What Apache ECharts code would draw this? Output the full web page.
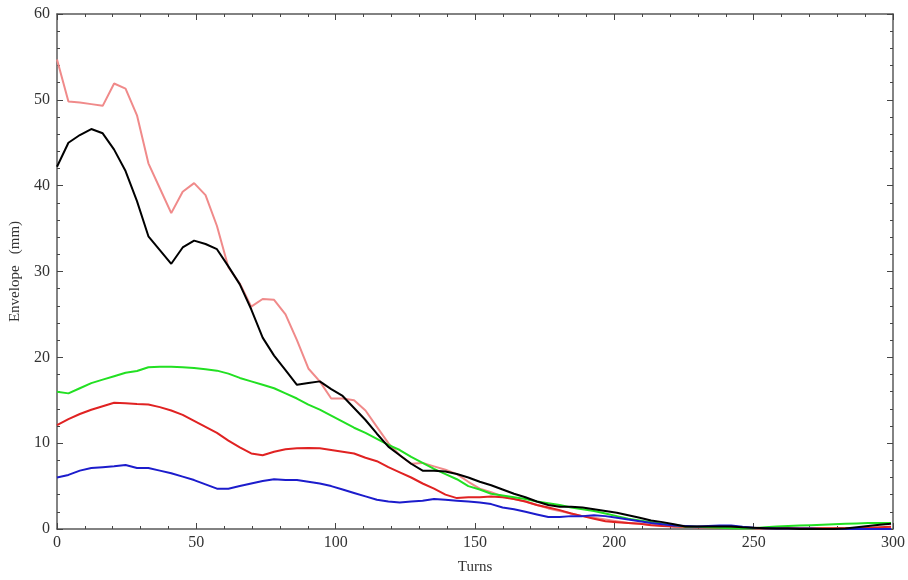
<!DOCTYPE html>
<html>
<head>
<meta charset="utf-8">
<script src="https://cdn.jsdelivr.net/npm/echarts@6/dist/echarts.min.js"></script>
<style>
html,body{margin:0;padding:0;background:#fff;}
#chart{width:908px;height:580px;}
</style>
</head>
<body>
<div id="chart"></div>
<script>
var turns = [0,4.1,8.2,12.3,16.4,20.5,24.6,28.7,32.8,36.9,41,45.1,49.2,53.3,57.4,61.5,65.6,69.7,73.8,77.9,82,86.1,90.2,94.3,98.4,102.5,106.6,110.7,114.8,118.9,123,127.1,131.2,135.3,139.4,143.5,147.6,151.7,155.8,159.9,164,168.1,172.2,176.3,180.4,184.5,188.6,192.7,196.8,200.9,205,209.1,213.2,217.3,221.4,225.5,229.6,233.7,237.8,241.9,246,250.1,254.2,258.3,262.4,266.5,270.6,274.7,278.8,282.9,287,291.1,295.2,299.3];

var pinkValues = [54.7,49.8,49.7,49.5,49.3,51.9,51.3,48.2,42.6,39.7,36.8,39.3,40.3,38.9,35.3,30.5,28.6,25.9,26.8,26.7,25.0,22.0,18.7,17.2,15.2,15.2,15.0,13.8,11.9,10.0,8.6,7.6,7.7,7.3,6.9,6.4,5.5,4.7,4.3,3.8,3.5,3.2,2.8,2.4,2.1,1.8,1.5,1.3,1.1,0.9,0.7,0.6,0.5,0.4,0.3,0.25,0.2,0.2,0.15,0.15,0.1,0.1,0.1,0.1,0.1,0.1,0.1,0.1,0.1,0.1,0.1,0.1,0.1,0.1];

var blackValues = [42.2,45.0,45.9,46.6,46.1,44.2,41.7,38.2,34.1,32.5,30.9,32.8,33.6,33.2,32.6,30.6,28.5,25.6,22.3,20.2,18.5,16.8,17.0,17.2,16.3,15.5,14.1,12.7,11.1,9.6,8.6,7.6,6.8,6.8,6.7,6.4,6.0,5.5,5.1,4.6,4.1,3.7,3.2,2.8,2.6,2.6,2.5,2.3,2.1,1.9,1.6,1.3,1.0,0.8,0.55,0.3,0.3,0.3,0.3,0.3,0.2,0.15,0.1,0.05,0.05,0,0,0,0,0.05,0.2,0.35,0.5,0.6];

var greenValues = [16.0,15.8,16.4,17.0,17.4,17.8,18.2,18.4,18.85,18.9,18.9,18.85,18.75,18.6,18.45,18.1,17.6,17.2,16.8,16.4,15.8,15.2,14.5,13.9,13.2,12.5,11.8,11.2,10.5,9.8,9.2,8.4,7.7,7.0,6.4,5.8,5.0,4.6,4.1,3.9,3.7,3.5,3.2,3.0,2.8,2.5,2.3,2.1,1.8,1.5,1.2,1.0,0.8,0.6,0.45,0.3,0.25,0.2,0.15,0.1,0.05,0.1,0.2,0.3,0.35,0.4,0.45,0.5,0.55,0.6,0.65,0.7,0.7,0.7];

var redValues = [12.1,12.8,13.4,13.9,14.3,14.7,14.65,14.55,14.5,14.2,13.8,13.3,12.6,11.9,11.2,10.3,9.5,8.8,8.6,9.0,9.3,9.4,9.45,9.4,9.2,9.0,8.8,8.3,7.9,7.2,6.6,6.0,5.3,4.7,4.0,3.6,3.7,3.7,3.8,3.7,3.5,3.2,2.8,2.5,2.2,1.8,1.5,1.2,0.9,0.8,0.7,0.6,0.45,0.35,0.3,0.25,0.2,0.2,0.15,0.15,0.15,0.1,0.1,0.1,0.1,0.1,0.1,0.1,0.1,0.1,0.1,0.15,0.2,0.25];

var blueValues = [6.0,6.3,6.8,7.1,7.2,7.3,7.45,7.1,7.1,6.8,6.5,6.1,5.7,5.2,4.7,4.7,5.0,5.3,5.6,5.8,5.7,5.7,5.5,5.3,5.0,4.6,4.2,3.8,3.4,3.2,3.1,3.2,3.3,3.5,3.4,3.3,3.2,3.1,2.9,2.5,2.3,2.0,1.7,1.4,1.4,1.5,1.5,1.6,1.5,1.3,1.1,0.9,0.7,0.55,0.4,0.35,0.3,0.35,0.4,0.4,0.25,0.15,0.1,0.05,0.05,0.05,0.05,0,0,0,0,0,0,0];

var xTicks = [0,50,100,150,200,250,300];
var yTicks = [0,10,20,30,40,50,60];

function pairs(vals){ return turns.map(function(t,i){ return [t, vals[i]]; }); }

var font = '"Liberation Serif", "DejaVu Serif", serif';
var frameColor = '#5a5a5a';

function mkX(pos, labels){
  return {
    type:'value', position:pos, min:xTicks[0], max:xTicks[xTicks.length-1], interval:50,
    name: labels ? 'Turns' : '', nameLocation:'middle', nameGap:31,
    nameTextStyle:{fontFamily:font, fontSize:15, color:'#333'},
    axisLine:{show:true, onZero:false, lineStyle:{color:frameColor, width:1.5}},
    axisTick:{show:true, inside:true, length:6, lineStyle:{color:'#444'}},
    minorTick:{show:true, splitNumber:5, length:3, lineStyle:{color:'#444'}},
    axisLabel:{show:labels, fontFamily:font, fontSize:16, color:'#333', margin:6},
    splitLine:{show:false}
  };
}
function mkY(pos, labels){
  return {
    type:'value', position:pos, min:yTicks[0], max:yTicks[yTicks.length-1], interval:10,
    name: labels ? 'Envelope   (mm)' : '', nameLocation:'middle', nameGap:34,
    nameTextStyle:{fontFamily:font, fontSize:15, color:'#333'},
    axisLine:{show:true, onZero:false, lineStyle:{color:frameColor, width:1.5}},
    axisTick:{show:true, inside:true, length:6, lineStyle:{color:'#444'}},
    minorTick:{show:true, splitNumber:5, length:3, lineStyle:{color:'#444'}},
    axisLabel:{show:labels, fontFamily:font, fontSize:16, color:'#333', margin:7},
    splitLine:{show:false}
  };
}

function line(name, vals, color){
  return {
    name:name, type:'line', xAxisIndex:0, yAxisIndex:0,
    data:pairs(vals), symbol:'none', smooth:false,
    lineStyle:{color:color, width:2}, itemStyle:{color:color},
    animation:false
  };
}

var chart = echarts.init(document.getElementById('chart'));
chart.setOption({
  backgroundColor:'#fff',
  animation:false,
  grid:{left:51, right:11, top:14, bottom:45},
  xAxis:[mkX('bottom', true), mkX('top', false)],
  yAxis:[mkY('left', true), mkY('right', false)],
  series:[
    line('pink', pinkValues, '#f08a8a'),
    line('red', redValues, '#e02222'),
    line('green', greenValues, '#22e022'),
    line('blue', blueValues, '#1c1ccc'),
    line('black', blackValues, '#000000')
  ]
});
</script>
</body>
</html>
